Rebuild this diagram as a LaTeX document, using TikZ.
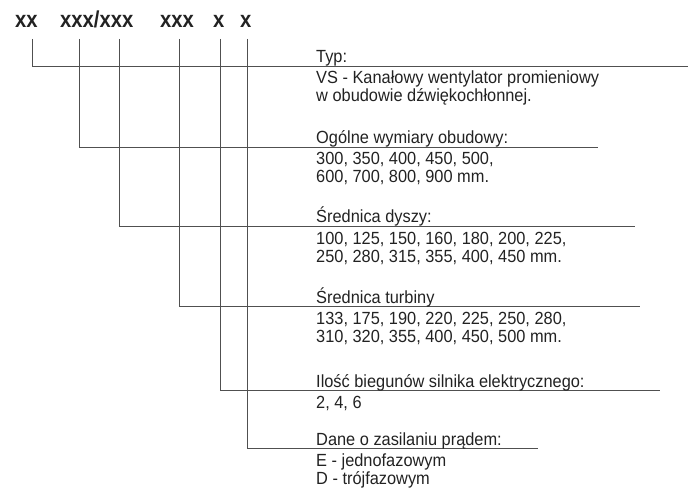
\documentclass[tikz,border=0pt]{standalone}
\usepackage{fontspec}
\setmainfont[FakeStretch=0.93]{Liberation Sans}
\newfontfamily\codefont[FakeStretch=0.88,UprightFont={* Bold}]{Liberation Sans}
\definecolor{txt}{HTML}{222222}
\definecolor{ln}{HTML}{505050}
\begin{document}
\begin{tikzpicture}[x=1pt,y=-1pt,
  code/.style={anchor=base west,inner sep=0pt,font=\fontsize{23}{23}\selectfont\codefont,text=txt},
  lbl/.style={anchor=base west,inner sep=0pt,font=\fontsize{17.6}{18}\selectfont,text=txt},
  conn/.style={draw=ln,line width=0.9pt}]
\useasboundingbox (0,0) rectangle (689,492);
% header code
\node[code] (k1) at (15,28) {xx};
\node[code] (k2) at (60,28) {xxx/xxx};
\node[code] (k3) at (160,28) {xxx};
\node[code] (k4) at (213,28) {x};
\node[code] (k5) at (240,28) {x};
% connector start points
\coordinate (v1) at (32,39);
\coordinate (v2) at (79,39);
\coordinate (v3) at (119,39);
\coordinate (v4) at (179,39);
\coordinate (v5) at (220,39);
\coordinate (v6) at (247,39);
% connector end points
\coordinate (h1) at (688,66);
\coordinate (h2) at (598,147);
\coordinate (h3) at (635,226);
\coordinate (h4) at (640,306);
\coordinate (h5) at (660,390);
\coordinate (h6) at (538,448);
\draw[conn] (v1) |- (h1);
\draw[conn] (v2) |- (h2);
\draw[conn] (v3) |- (h3);
\draw[conn] (v4) |- (h4);
\draw[conn] (v5) |- (h5);
\draw[conn] (v6) |- (h6);
% labels
\node[lbl] (t1) at (316,63) {Typ:};
\node[lbl] (d1a) at (316,84) {VS - Kanałowy wentylator promieniowy};
\node[lbl] (d1b) at (316,102) {w obudowie dźwiękochłonnej.};
\node[lbl] (t2) at (316,144) {Ogólne wymiary obudowy:};
\node[lbl] (d2a) at (316,165) {300, 350, 400, 450, 500,};
\node[lbl] (d2b) at (316,183) {600, 700, 800, 900 mm.};
\node[lbl] (t3) at (316,223) {Średnica dyszy:};
\node[lbl] (d3a) at (316,244) {100, 125, 150, 160, 180, 200, 225,};
\node[lbl] (d3b) at (316,262) {250, 280, 315, 355, 400, 450 mm.};
\node[lbl] (t4) at (316,303) {Średnica turbiny};
\node[lbl] (d4a) at (316,324) {133, 175, 190, 220, 225, 250, 280,};
\node[lbl] (d4b) at (316,342) {310, 320, 355, 400, 450, 500 mm.};
\node[lbl] (t5) at (316,387) {Ilość biegunów silnika elektrycznego:};
\node[lbl] (d5a) at (316,408) {2, 4, 6};
\node[lbl] (t6) at (316,445) {Dane o zasilaniu prądem:};
\node[lbl] (d6a) at (316,466) {E - jednofazowym};
\node[lbl] (d6b) at (316,484) {D - trójfazowym};
\end{tikzpicture}
\end{document}
